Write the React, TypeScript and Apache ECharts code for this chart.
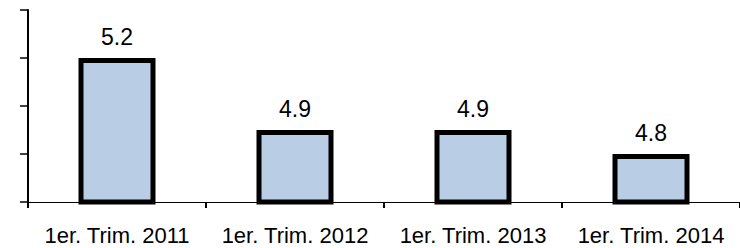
import React, { useEffect, useRef } from "react";
import * as echarts from "echarts";

const categories = ["1er. Trim. 2011", "1er. Trim. 2012", "1er. Trim. 2013", "1er. Trim. 2014"];
const values = [5.2, 4.9, 4.9, 4.8];
const yMin = 4.6;
const yMax = 5.4;
const yInterval = 0.2;

export default function App() {
  const ref = useRef<HTMLDivElement>(null);
  useEffect(() => {
    if (!ref.current) return;
    const chart = echarts.init(ref.current, null, { renderer: "svg" });
    chart.setOption({
      animation: false,
      grid: { left: 28, right: -7, top: 10, bottom: 46, containLabel: false },
      xAxis: {
        type: "category",
        data: categories,
        axisLine: { show: true, lineStyle: { color: "#000", width: 1 } },
        axisTick: { show: true, alignWithLabel: false, length: 6, lineStyle: { color: "#000", width: 2 } },
        axisLabel: {
          color: "#000",
          fontFamily: "Liberation Sans, Arial, sans-serif",
          fontSize: 22,
          margin: 22,
          interval: 0,
        },
      },
      yAxis: {
        type: "value",
        min: yMin,
        max: yMax,
        interval: yInterval,
        axisLine: { show: true, lineStyle: { color: "#000", width: 2 } },
        axisTick: { show: true, inside: false, length: 8, lineStyle: { color: "#000", width: 1.5 } },
        axisLabel: { show: false },
        splitLine: { show: false },
      },
      series: [
        {
          type: "bar",
          data: values,
          barWidth: 77,
          itemStyle: { color: "#B9CDE5", borderColor: "#000", borderWidth: 5 },
          label: {
            show: true,
            position: "top",
            distance: 10,
            color: "#000",
            fontFamily: "Liberation Sans, Arial, sans-serif",
            fontSize: 23,
            formatter: (p: any) => p.value.toFixed(1),
          },
        },
      ],
    });
    return () => chart.dispose();
  }, []);
  return <div ref={ref} style={{ width: 740, height: 248, position: "absolute", left: 0, top: 0, background: "#fff" }} />;
}
